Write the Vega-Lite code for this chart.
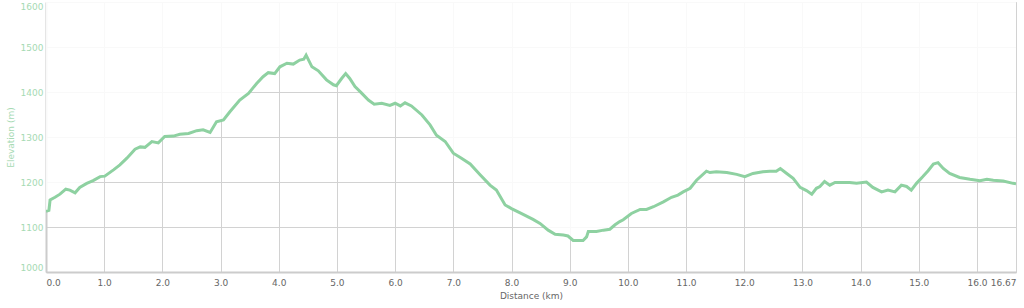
{
  "$schema": "https://vega.github.io/schema/vega-lite/v6.json",
  "autosize": "none",
  "padding": {"left": 46, "top": 2, "right": 8, "bottom": 36},
  "width": 970,
  "height": 270,
  "config": {
    "font": "DejaVu Sans",
    "view": {"stroke": "#e0e0e0", "strokeWidth": 1}
  },
  "data": {"values": [
    {"d": 0.0, "e": 1135}, {"d": 0.05, "e": 1137}, {"d": 0.07, "e": 1160}, {"d": 0.155, "e": 1166},
    {"d": 0.24, "e": 1173}, {"d": 0.34, "e": 1184}, {"d": 0.41, "e": 1182}, {"d": 0.5, "e": 1176},
    {"d": 0.58, "e": 1188}, {"d": 0.7, "e": 1197}, {"d": 0.81, "e": 1203}, {"d": 0.93, "e": 1212},
    {"d": 1.01, "e": 1213}, {"d": 1.16, "e": 1227}, {"d": 1.27, "e": 1238}, {"d": 1.39, "e": 1253},
    {"d": 1.53, "e": 1273}, {"d": 1.62, "e": 1278}, {"d": 1.7, "e": 1277}, {"d": 1.82, "e": 1290},
    {"d": 1.93, "e": 1287}, {"d": 2.04, "e": 1301}, {"d": 2.19, "e": 1302}, {"d": 2.3, "e": 1306},
    {"d": 2.45, "e": 1308}, {"d": 2.59, "e": 1314}, {"d": 2.7, "e": 1316}, {"d": 2.82, "e": 1310},
    {"d": 2.93, "e": 1334}, {"d": 3.05, "e": 1338}, {"d": 3.16, "e": 1356}, {"d": 3.33, "e": 1382},
    {"d": 3.48, "e": 1397}, {"d": 3.62, "e": 1419}, {"d": 3.73, "e": 1434}, {"d": 3.82, "e": 1443},
    {"d": 3.93, "e": 1441}, {"d": 4.02, "e": 1456}, {"d": 4.14, "e": 1464}, {"d": 4.25, "e": 1462},
    {"d": 4.36, "e": 1471}, {"d": 4.43, "e": 1473}, {"d": 4.47, "e": 1482}, {"d": 4.57, "e": 1456},
    {"d": 4.68, "e": 1447}, {"d": 4.82, "e": 1427}, {"d": 4.94, "e": 1416}, {"d": 4.99, "e": 1414},
    {"d": 5.08, "e": 1430}, {"d": 5.15, "e": 1441}, {"d": 5.22, "e": 1430}, {"d": 5.31, "e": 1412},
    {"d": 5.42, "e": 1398}, {"d": 5.54, "e": 1382}, {"d": 5.64, "e": 1373}, {"d": 5.77, "e": 1375},
    {"d": 5.91, "e": 1370}, {"d": 6.0, "e": 1375}, {"d": 6.09, "e": 1369}, {"d": 6.17, "e": 1376},
    {"d": 6.28, "e": 1369}, {"d": 6.46, "e": 1349}, {"d": 6.6, "e": 1327}, {"d": 6.71, "e": 1304},
    {"d": 6.86, "e": 1290}, {"d": 7.0, "e": 1264}, {"d": 7.14, "e": 1253}, {"d": 7.29, "e": 1240},
    {"d": 7.46, "e": 1216}, {"d": 7.63, "e": 1193}, {"d": 7.74, "e": 1182}, {"d": 7.89, "e": 1149},
    {"d": 8.0, "e": 1141}, {"d": 8.14, "e": 1132}, {"d": 8.37, "e": 1117}, {"d": 8.49, "e": 1108},
    {"d": 8.63, "e": 1093}, {"d": 8.75, "e": 1084}, {"d": 8.89, "e": 1082}, {"d": 8.97, "e": 1080},
    {"d": 9.06, "e": 1070}, {"d": 9.23, "e": 1070}, {"d": 9.29, "e": 1078}, {"d": 9.32, "e": 1090},
    {"d": 9.46, "e": 1090}, {"d": 9.58, "e": 1093}, {"d": 9.69, "e": 1095}, {"d": 9.78, "e": 1105},
    {"d": 9.86, "e": 1112}, {"d": 9.92, "e": 1116}, {"d": 10.06, "e": 1130}, {"d": 10.21, "e": 1139},
    {"d": 10.32, "e": 1139}, {"d": 10.44, "e": 1145}, {"d": 10.61, "e": 1156}, {"d": 10.75, "e": 1166},
    {"d": 10.86, "e": 1171}, {"d": 10.95, "e": 1178}, {"d": 11.07, "e": 1186}, {"d": 11.18, "e": 1204},
    {"d": 11.35, "e": 1224}, {"d": 11.41, "e": 1221}, {"d": 11.52, "e": 1223}, {"d": 11.7, "e": 1221},
    {"d": 11.87, "e": 1217}, {"d": 12.01, "e": 1212}, {"d": 12.15, "e": 1219}, {"d": 12.32, "e": 1223},
    {"d": 12.44, "e": 1224}, {"d": 12.55, "e": 1224}, {"d": 12.62, "e": 1230}, {"d": 12.73, "e": 1219},
    {"d": 12.84, "e": 1208}, {"d": 12.96, "e": 1188}, {"d": 13.07, "e": 1181}, {"d": 13.16, "e": 1173},
    {"d": 13.24, "e": 1186}, {"d": 13.3, "e": 1190}, {"d": 13.38, "e": 1201}, {"d": 13.47, "e": 1193},
    {"d": 13.56, "e": 1199}, {"d": 13.7, "e": 1199}, {"d": 13.81, "e": 1199}, {"d": 13.93, "e": 1197},
    {"d": 14.1, "e": 1200}, {"d": 14.21, "e": 1188}, {"d": 14.36, "e": 1178}, {"d": 14.47, "e": 1182},
    {"d": 14.59, "e": 1178}, {"d": 14.7, "e": 1193}, {"d": 14.79, "e": 1190}, {"d": 14.87, "e": 1182},
    {"d": 14.96, "e": 1197}, {"d": 15.07, "e": 1212}, {"d": 15.16, "e": 1225}, {"d": 15.25, "e": 1240},
    {"d": 15.33, "e": 1243}, {"d": 15.42, "e": 1230}, {"d": 15.53, "e": 1219}, {"d": 15.7, "e": 1210},
    {"d": 15.88, "e": 1206}, {"d": 16.05, "e": 1203}, {"d": 16.17, "e": 1206}, {"d": 16.28, "e": 1204},
    {"d": 16.45, "e": 1202}, {"d": 16.62, "e": 1197}, {"d": 16.67, "e": 1196}
  ]},
  "encoding": {
    "x": {
      "field": "d", "type": "quantitative",
      "scale": {"domain": [0, 16.67], "nice": false, "zero": false},
      "axis": {
        "title": "Distance (km)",
        "values": [0, 1, 2, 3, 4, 5, 6, 7, 8, 9, 10, 11, 12, 13, 14, 15, 16, 16.67],
        "labelExpr": "datum.value == 16.67 ? '16.67' : format(datum.value, '.1f')",
        "labelFlush": true,
        "labelFontSize": 9, "labelColor": "#666666", "labelPadding": 6,
        "ticks": false,
        "domainColor": "#cccccc", "domainWidth": 2,
        "grid": true, "gridColor": "#d2d2d2", "gridWidth": 1,
        "titleFontSize": 9, "titleFontWeight": "normal", "titleColor": "#666666", "titlePadding": 4
      }
    },
    "y": {
      "field": "e", "type": "quantitative",
      "scale": {"domain": [1000, 1600], "nice": false, "zero": false},
      "axis": {
        "title": "Elevation (m)",
        "values": [1000, 1100, 1200, 1300, 1400, 1500, 1600],
        "format": "d",
        "labelFlush": true,
        "labelFontSize": 9, "labelColor": "#a6dab3", "labelPadding": 3,
        "ticks": false,
        "domainColor": "#cccccc", "domainWidth": 2,
        "grid": true, "gridColor": "#d2d2d2", "gridWidth": 1,
        "titleFontSize": 9, "titleFontWeight": "normal", "titleColor": "#a6dab3", "titlePadding": 5
      }
    }
  },
  "layer": [
    {
      "mark": {"type": "area", "fill": "#ffffff", "opacity": 0.87, "clip": true},
      "encoding": {"y2": {"datum": 1600}}
    },
    {
      "mark": {"type": "line", "color": "#8ed1a1", "strokeWidth": 3, "clip": true}
    }
  ]
}
